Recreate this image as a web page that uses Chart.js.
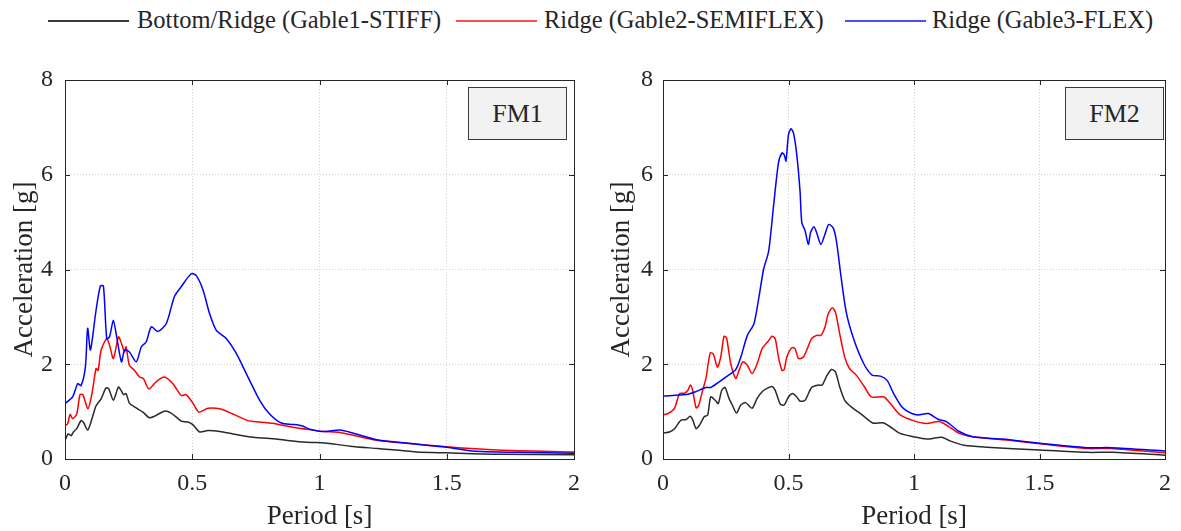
<!DOCTYPE html>
<html>
<head>
<meta charset="utf-8">
<script src="https://cdn.jsdelivr.net/npm/chart.js@4.4.1/dist/chart.umd.min.js"></script>
<style>
  body { margin: 0; background: #fff; }
  #wrap { position: relative; width: 1181px; height: 531px; overflow: hidden; font-family: "Liberation Serif", "Times New Roman", serif; color: #262626; }
  .lg-line { position: absolute; top: 20px; width: 81px; height: 0; border-top: 2px solid; }
  .lg-text { position: absolute; top: 5px; font-size: 24.5px; line-height: 30px; white-space: nowrap; }
  .fm { position: absolute; width: 97px; height: 51px; background: #f2f2f2; border: 1px solid #3a3a3a;
        font-size: 26px; line-height: 51px; text-align: center; }
  canvas { position: absolute; top: 0; }
</style>
</head>
<body>
<div id="wrap">
  <div class="lg-line" style="left:48px;border-color:#3a3a3a"></div>
  <div class="lg-text" style="left:137px">Bottom/Ridge (Gable1-STIFF)</div>
  <div class="lg-line" style="left:456px;border-color:#ff4d4d"></div>
  <div class="lg-text" style="left:544px">Ridge (Gable2-SEMIFLEX)</div>
  <div class="lg-line" style="left:845px;border-color:#4d4dff"></div>
  <div class="lg-text" style="left:932px">Ridge (Gable3-FLEX)</div>

  <canvas id="fm1" width="590" height="531" style="left:0"></canvas>
  <canvas id="fm2" width="591" height="531" style="left:590px"></canvas>

  <div class="fm" style="left:468px;top:87px">FM1</div>
  <div class="fm" style="left:1065px;top:87px">FM2</div>
</div>
<script>
'use strict';

const seriesNames = ['Bottom/Ridge (Gable1-STIFF)', 'Ridge (Gable2-SEMIFLEX)', 'Ridge (Gable3-FLEX)'];
const xTickValues = [0, 0.5, 1, 1.5, 2];
const xTickLabels = ['0', '0.5', '1', '1.5', '2'];
const yTickValues = [0, 2, 4, 6, 8];
const yTickLabels = ['0', '2', '4', '6', '8'];

// FM1 - period [s] / acceleration [g]
const fm1StiffT = [0, 0.013, 0.024, 0.033, 0.046, 0.063, 0.072, 0.089, 0.106, 0.12, 0.128, 0.142, 0.161, 0.172, 0.19, 0.21, 0.22, 0.23, 0.24, 0.253, 0.273, 0.306, 0.332, 0.358, 0.39, 0.417, 0.457, 0.483, 0.503, 0.529, 0.562, 0.608, 0.66, 0.739, 0.83, 0.91, 0.97, 1.02, 1.12, 1.23, 1.38, 1.5, 1.7, 2.0];
const fm1StiffA = [0.39, 0.53, 0.49, 0.57, 0.64, 0.81, 0.78, 0.61, 0.85, 1.10, 1.17, 1.27, 1.50, 1.48, 1.24, 1.52, 1.45, 1.36, 1.38, 1.18, 1.10, 0.99, 0.87, 0.92, 1.01, 0.97, 0.80, 0.78, 0.72, 0.57, 0.60, 0.58, 0.53, 0.46, 0.42, 0.37, 0.35, 0.34, 0.27, 0.22, 0.15, 0.13, 0.10, 0.09];

const fm1SemiT = [0, 0.01, 0.02, 0.03, 0.046, 0.059, 0.07, 0.09, 0.106, 0.122, 0.13, 0.142, 0.164, 0.175, 0.19, 0.21, 0.22, 0.234, 0.24, 0.253, 0.273, 0.293, 0.308, 0.329, 0.358, 0.39, 0.424, 0.457, 0.476, 0.50, 0.526, 0.562, 0.608, 0.66, 0.719, 0.765, 0.83, 0.896, 0.96, 1.02, 1.08, 1.23, 1.5, 1.7, 2.0];
const fm1SemiA = [0.71, 0.74, 0.94, 0.85, 0.95, 1.36, 1.36, 1.06, 1.38, 1.91, 1.87, 2.30, 2.54, 2.40, 2.12, 2.58, 2.47, 2.26, 2.37, 1.98, 1.87, 1.73, 1.70, 1.48, 1.63, 1.73, 1.59, 1.34, 1.36, 1.20, 0.99, 1.07, 1.06, 0.95, 0.81, 0.78, 0.74, 0.67, 0.62, 0.58, 0.56, 0.39, 0.26, 0.19, 0.15];

const fm1FlexT = [0, 0.03, 0.05, 0.063, 0.08, 0.089, 0.10, 0.122, 0.139, 0.151, 0.164, 0.175, 0.19, 0.203, 0.222, 0.234, 0.253, 0.28, 0.30, 0.319, 0.339, 0.365, 0.398, 0.43, 0.457, 0.496, 0.516, 0.542, 0.568, 0.594, 0.634, 0.673, 0.719, 0.765, 0.804, 0.85, 0.896, 0.93, 0.962, 1.02, 1.08, 1.13, 1.23, 1.30, 1.42, 1.5, 1.6, 1.78, 2.0];
const fm1FlexA = [1.17, 1.31, 1.59, 1.55, 1.94, 2.76, 2.30, 3.14, 3.65, 3.65, 2.54, 2.58, 2.93, 2.58, 2.05, 2.30, 2.26, 2.05, 2.37, 2.47, 2.79, 2.69, 2.86, 3.43, 3.64, 3.91, 3.87, 3.57, 3.07, 2.72, 2.54, 2.23, 1.73, 1.24, 0.95, 0.76, 0.73, 0.70, 0.63, 0.58, 0.61, 0.55, 0.40, 0.36, 0.29, 0.25, 0.17, 0.14, 0.12];

// FM2
const fm2StiffT = [0, 0.026, 0.046, 0.072, 0.092, 0.108, 0.118, 0.132, 0.145, 0.164, 0.178, 0.19, 0.208, 0.22, 0.234, 0.247, 0.263, 0.276, 0.293, 0.31, 0.329, 0.355, 0.375, 0.395, 0.414, 0.434, 0.447, 0.467, 0.483, 0.5, 0.516, 0.533, 0.546, 0.566, 0.592, 0.618, 0.634, 0.651, 0.671, 0.687, 0.704, 0.724, 0.75, 0.776, 0.803, 0.836, 0.88, 0.945, 0.997, 1.05, 1.11, 1.14, 1.2, 1.29, 1.5, 1.69, 1.79, 2.0];
const fm2StiffA = [0.55, 0.57, 0.64, 0.82, 0.83, 0.90, 0.83, 0.64, 0.71, 0.89, 0.93, 1.31, 1.24, 1.17, 1.45, 1.51, 1.28, 1.14, 0.97, 1.14, 1.19, 1.07, 1.28, 1.42, 1.49, 1.53, 1.45, 1.16, 1.14, 1.31, 1.38, 1.31, 1.22, 1.24, 1.51, 1.56, 1.56, 1.74, 1.89, 1.84, 1.52, 1.24, 1.10, 1.00, 0.89, 0.76, 0.76, 0.54, 0.47, 0.42, 0.46, 0.39, 0.29, 0.25, 0.19, 0.14, 0.14, 0.08];

const fm2SemiT = [0, 0.02, 0.046, 0.066, 0.086, 0.099, 0.109, 0.118, 0.132, 0.142, 0.158, 0.171, 0.188, 0.2, 0.217, 0.23, 0.243, 0.253, 0.27, 0.29, 0.303, 0.318, 0.336, 0.355, 0.375, 0.395, 0.421, 0.434, 0.447, 0.46, 0.474, 0.483, 0.493, 0.513, 0.526, 0.54, 0.559, 0.572, 0.592, 0.612, 0.629, 0.645, 0.658, 0.674, 0.687, 0.704, 0.724, 0.743, 0.77, 0.803, 0.83, 0.88, 0.906, 0.945, 0.997, 1.05, 1.10, 1.14, 1.18, 1.234, 1.39, 1.503, 1.69, 1.785, 2.0];
const fm2SemiA = [0.93, 0.96, 1.07, 1.38, 1.39, 1.45, 1.56, 1.45, 1.08, 1.13, 1.45, 1.70, 2.24, 2.22, 1.94, 2.15, 2.59, 2.56, 2.01, 1.70, 1.87, 2.05, 1.98, 1.80, 2.01, 2.33, 2.50, 2.59, 2.54, 2.15, 1.87, 1.89, 2.15, 2.35, 2.33, 2.12, 2.15, 2.29, 2.54, 2.61, 2.61, 2.78, 3.06, 3.19, 3.10, 2.64, 2.15, 1.91, 1.77, 1.52, 1.31, 1.31, 1.17, 0.93, 0.81, 0.75, 0.79, 0.68, 0.54, 0.47, 0.39, 0.32, 0.22, 0.22, 0.13];

const fm2FlexT = [0, 0.092, 0.13, 0.171, 0.19, 0.224, 0.25, 0.29, 0.31, 0.336, 0.362, 0.382, 0.401, 0.421, 0.441, 0.46, 0.474, 0.483, 0.49, 0.50, 0.51, 0.52, 0.533, 0.546, 0.553, 0.566, 0.579, 0.588, 0.601, 0.612, 0.629, 0.645, 0.66, 0.678, 0.691, 0.708, 0.73, 0.761, 0.80, 0.833, 0.866, 0.893, 0.919, 0.952, 0.991, 1.017, 1.057, 1.096, 1.129, 1.18, 1.234, 1.352, 1.503, 1.69, 1.785, 2.0];
const fm2FlexA = [1.33, 1.36, 1.42, 1.51, 1.51, 1.63, 1.73, 1.89, 2.15, 2.61, 2.85, 3.41, 4.01, 4.39, 5.37, 6.25, 6.46, 6.42, 6.29, 6.85, 6.97, 6.88, 6.42, 5.65, 4.99, 4.82, 4.53, 4.78, 4.90, 4.78, 4.53, 4.74, 4.95, 4.88, 4.60, 3.90, 3.10, 2.51, 2.01, 1.77, 1.75, 1.66, 1.38, 1.10, 0.96, 0.93, 0.96, 0.84, 0.79, 0.58, 0.47, 0.42, 0.33, 0.24, 0.24, 0.17];

const lineColors = ['#2a2a2a', '#ff0000', '#0000ff'];
const fontFamily = '"Liberation Serif", "Times New Roman", serif';
const axisColor = '#262626';

function pts(t, a) {
  return t.map((v, i) => ({x: v, y: a[i]}));
}

// matlab style box with inward ticks on all four sides
const axesBox = {
  id: 'axesBox',
  afterDraw(chart) {
    const {ctx, chartArea: a, scales: {x, y}} = chart;
    ctx.save();
    ctx.strokeStyle = axisColor;
    ctx.lineWidth = 1;
    ctx.beginPath();
    xTickValues.forEach(v => {
      const px = Math.round(x.getPixelForValue(v)) + 0.5;
      ctx.moveTo(px, a.bottom); ctx.lineTo(px, a.bottom - 5);
      ctx.moveTo(px, a.top); ctx.lineTo(px, a.top + 5);
    });
    yTickValues.forEach(v => {
      const py = Math.round(y.getPixelForValue(v)) + 0.5;
      ctx.moveTo(a.left, py); ctx.lineTo(a.left + 5, py);
      ctx.moveTo(a.right, py); ctx.lineTo(a.right - 5, py);
    });
    ctx.stroke();
    ctx.strokeRect(Math.round(a.left) + 0.5, Math.round(a.top) + 0.5, Math.round(a.right - a.left), Math.round(a.bottom - a.top));
    ctx.restore();
  }
};

function makeChart(id, sets, yWidth, rightPad, yTitlePad, yTickPad) {
  return new Chart(document.getElementById(id), {
    type: 'line',
    data: {
      datasets: sets.map((d, i) => ({
        label: seriesNames[i],
        data: d,
        borderColor: lineColors[i],
        backgroundColor: lineColors[i],
        order: 3 - i
      }))
    },
    options: {
      responsive: false,
      animation: false,
      layout: {padding: {top: 80, right: rightPad, left: 0, bottom: 0}},
      plugins: {legend: {display: false}, tooltip: {enabled: false}},
      elements: {point: {radius: 0}, line: {borderWidth: 1.5, tension: 0.25}},
      scales: {
        x: {
          type: 'linear', min: 0, max: 2,
          afterFit: s => { s.height = 72; },
          afterBuildTicks: s => { s.ticks = xTickValues.map(v => ({value: v})); },
          ticks: {
            callback: (v, i) => xTickLabels[i],
            font: {family: fontFamily, size: 24},
            color: axisColor, padding: 10, maxRotation: 0
          },
          grid: {color: '#cfcfcf', drawTicks: false},
          border: {display: false, dash: [1, 2]},
          title: {
            display: true, text: 'Period [s]', color: axisColor,
            font: {family: fontFamily, size: 27, lineHeight: 1},
            padding: {top: 0, bottom: 1}
          }
        },
        y: {
          type: 'linear', min: 0, max: 8,
          afterFit: s => { s.width = yWidth; },
          afterBuildTicks: s => { s.ticks = yTickValues.map(v => ({value: v})); },
          ticks: {
            callback: (v, i) => yTickLabels[i],
            font: {family: fontFamily, size: 24},
            color: axisColor, padding: yTickPad
          },
          grid: {color: '#cfcfcf', drawTicks: false},
          border: {display: false, dash: [1, 2]},
          title: {
            display: true, text: 'Acceleration [g]', color: axisColor,
            font: {family: fontFamily, size: 27, lineHeight: 1},
            padding: {top: yTitlePad, bottom: 0}
          }
        }
      }
    },
    plugins: [axesBox]
  });
}

makeChart('fm1', [pts(fm1StiffT, fm1StiffA), pts(fm1SemiT, fm1SemiA), pts(fm1FlexT, fm1FlexA)], 65, 15, 11.5, 12);
makeChart('fm2', [pts(fm2StiffT, fm2StiffA), pts(fm2SemiT, fm2SemiA), pts(fm2FlexT, fm2FlexA)], 73, 9, 18.5, 10);
</script>
</body>
</html>
